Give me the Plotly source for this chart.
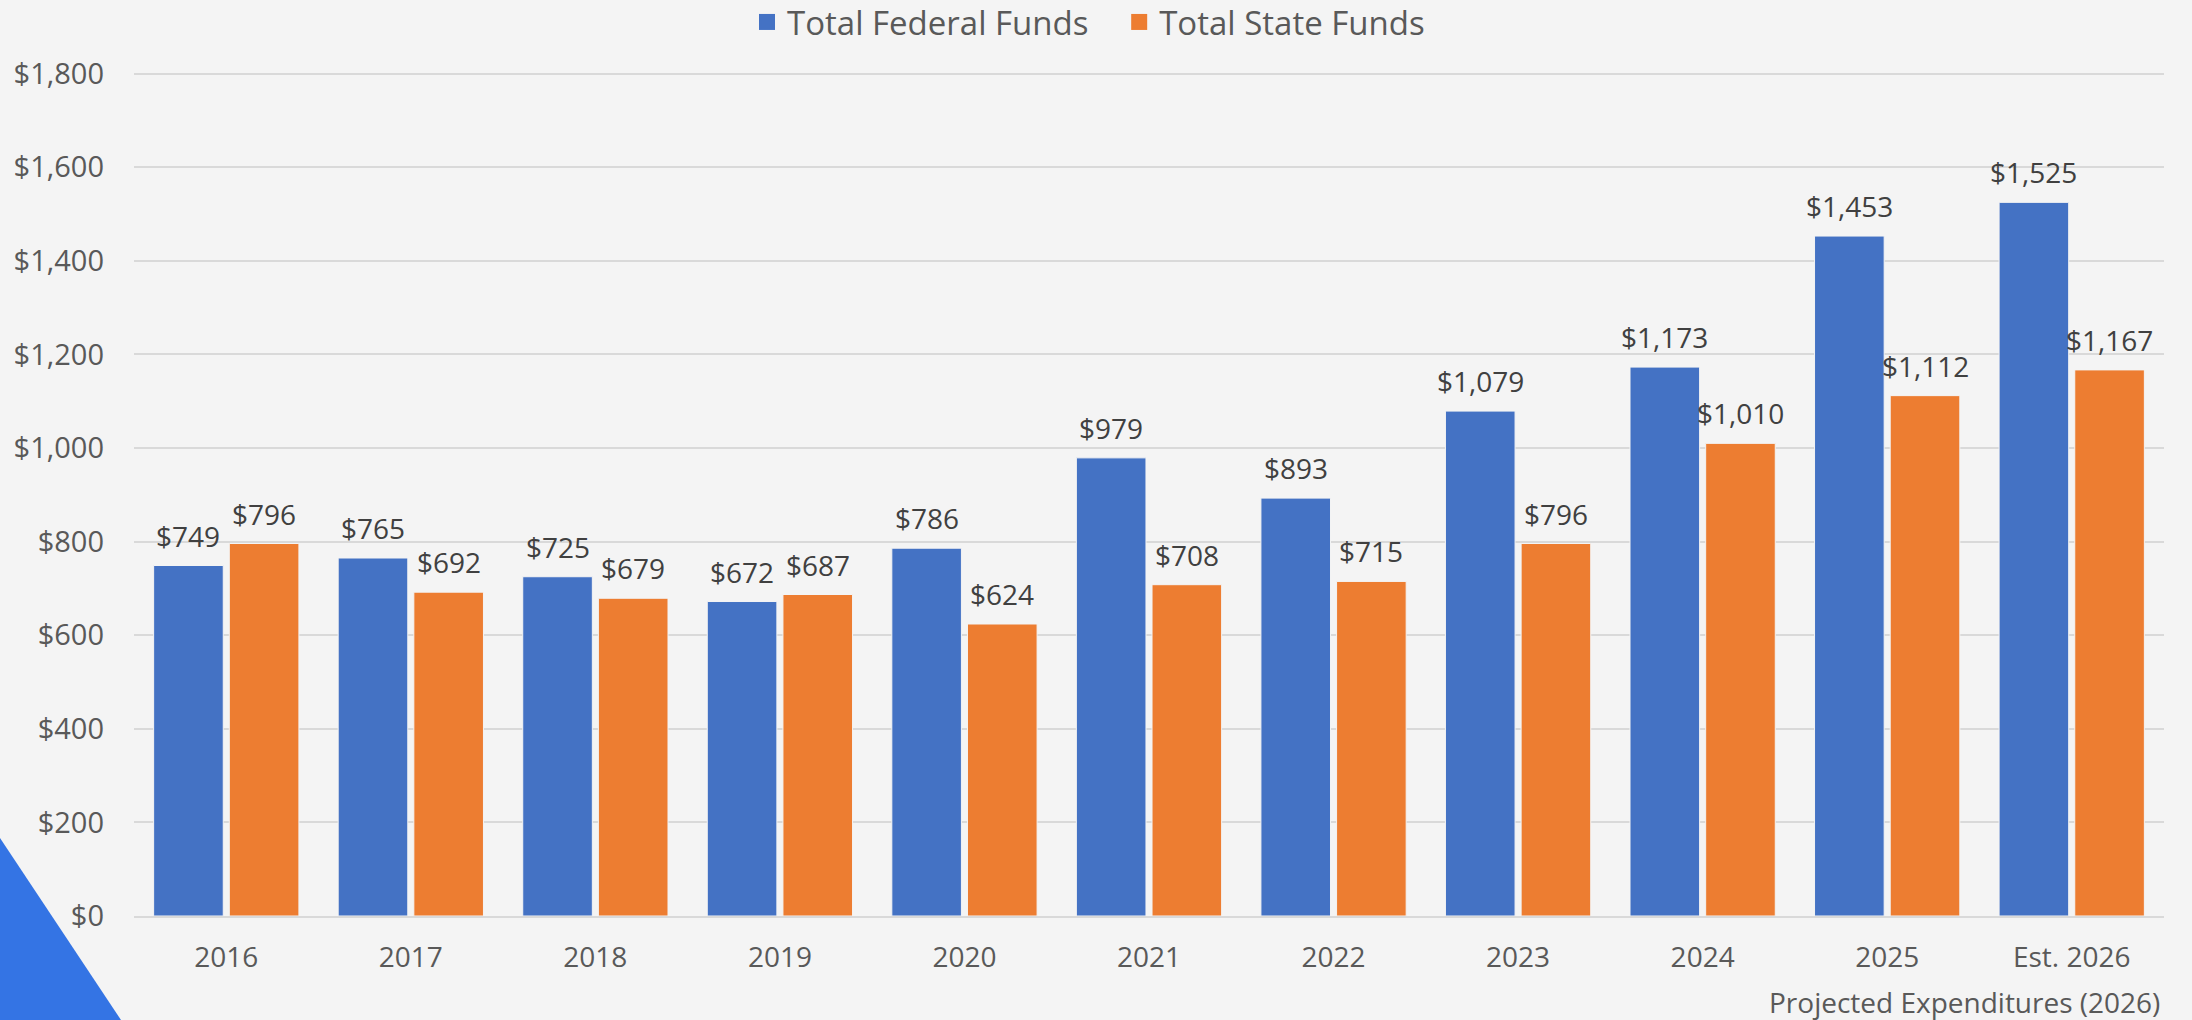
import plotly.graph_objects as go

categories = ["2016", "2017", "2018", "2019", "2020", "2021", "2022", "2023", "2024", "2025", "Est. 2026"]
federal = [749, 765, 725, 672, 786, 979, 893, 1079, 1173, 1453, 1525]
state = [796, 692, 679, 687, 624, 708, 715, 796, 1010, 1112, 1167]
y_ticks = [0, 200, 400, 600, 800, 1000, 1200, 1400, 1600, 1800]
y_tick_labels = ["$0", "$200", "$400", "$600", "$800", "$1,000", "$1,200", "$1,400", "$1,600", "$1,800"]
series_names = ["Total Federal Funds", "Total State Funds"]
series_colors = ["#4472C4", "#ED7D31"]

FONT = "Open Sans"
W, H = 2192, 1020
L, R, T, B = 134, 28, 69, 104
pw, ph = W - L - R, H - T - B

def px2paper(x, y):
    return (x - L) / pw, (H - B - y) / ph

BARGAP = 0.18
GROUPGAP = 0.08
slot = (1 - BARGAP) / 2

fig = go.Figure()
for name, vals, col in zip(series_names, [federal, state], series_colors):
    fig.add_trace(go.Bar(
        name=name, x=categories, y=vals, showlegend=False,
        marker=dict(color=col, line=dict(color="#F4F4F4", width=1)),
        hoverinfo="x+y",
    ))
# legend entries with square swatches
for k, (name, col) in enumerate(zip(series_names, series_colors)):
    fig.add_trace(go.Scatter(
        name=name + ("\u00a0\u00a0\u00a0" if k == 0 else ""), x=[None], y=[None], mode="markers",
        marker=dict(symbol="square", size=21, color=col),
        showlegend=True, hoverinfo="skip",
    ))

# value labels above bars
annotations = []
for s, vals in enumerate([federal, state]):
    shift = (s - 0.5) * slot
    for i, v in enumerate(vals):
        annotations.append(dict(
            x=i + shift, y=v, xref="x", yref="y", text=f"${v:,}",
            showarrow=False, yanchor="bottom", xanchor="center", yshift=9,
            font=dict(family=FONT, size=28, color="#404040"),
        ))

p0 = px2paper(0, 838)
p1 = px2paper(0, 1020)
p2 = px2paper(121, 1020)
tri = f"M {p0[0]},{p0[1]} L {p1[0]},{p1[1]} L {p2[0]},{p2[1]} Z"

ann_x, ann_y = px2paper(2162, 1002)
annotations.append(dict(text="Projected Expenditures (2026)", xref="paper", yref="paper",
                        x=ann_x, y=ann_y, xanchor="right", yanchor="middle", showarrow=False,
                        font=dict(family=FONT, size=28, color="#595959")))

fig.update_layout(
    width=W, height=H,
    margin=dict(l=L, r=R, t=T, b=B, autoexpand=False),
    paper_bgcolor="#F4F4F4", plot_bgcolor="#F4F4F4",
    barmode="group", bargap=BARGAP, bargroupgap=GROUPGAP,
    font=dict(family=FONT, size=28, color="#595959"),
    legend=dict(orientation="h", x=px2paper(747, 0)[0], xanchor="left",
                y=px2paper(0, 22)[1], yanchor="middle",
                font=dict(family=FONT, size=33, color="#595959"), itemwidth=30,
                bgcolor="rgba(0,0,0,0)"),
    xaxis=dict(showgrid=False, showline=True, linecolor="#D9D9D9", linewidth=2,
               ticks="", tickfont=dict(family=FONT, size=28, color="#595959"),
               ticklabelstandoff=15),
    yaxis=dict(range=[0, 1810], tickvals=y_ticks, ticktext=y_tick_labels,
               showgrid=True, gridcolor="#D9D9D9", gridwidth=2,
               zeroline=False, showline=False, ticks="",
               tickfont=dict(family=FONT, size=29, color="#595959"),
               ticklabelstandoff=29),
    shapes=[dict(type="path", path=tri, xref="paper", yref="paper",
                 fillcolor="#3474E4", line=dict(width=0), layer="below")],
    annotations=annotations,
)

fig.write_html("out.html", config={"displayModeBar": False},
               post_script="document.body.style.margin='0';")
